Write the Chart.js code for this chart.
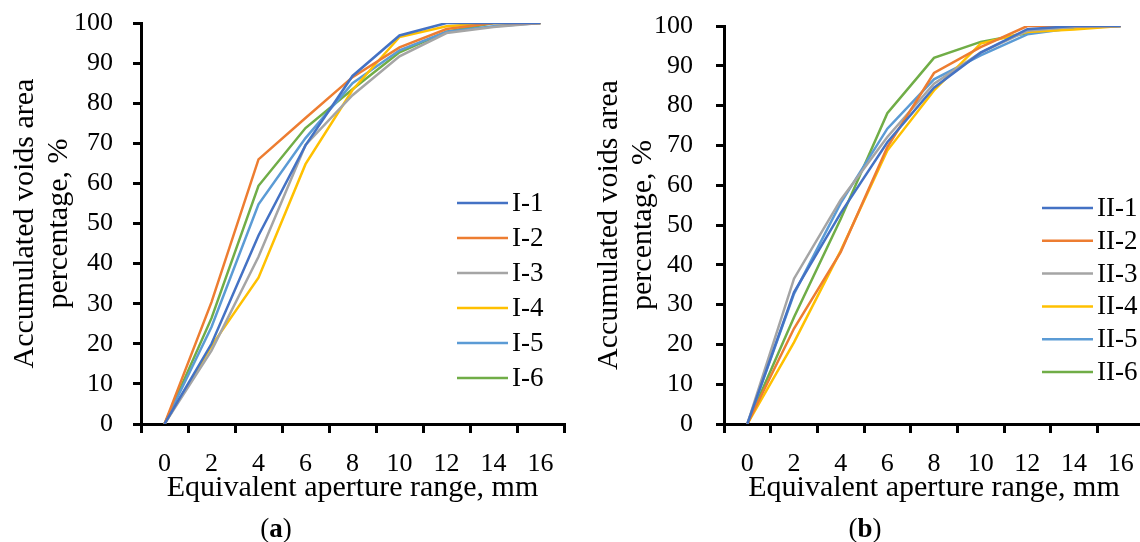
<!DOCTYPE html>
<html>
<head>
<meta charset="utf-8">
<script src="https://cdn.jsdelivr.net/npm/chart.js@4.4.1/dist/chart.umd.min.js"></script>
<style>
  html, body { margin: 0; padding: 0; background: #fff; width: 1140px; height: 542px; overflow: hidden; position: relative; }
  .panel { position: absolute; top: 0; height: 542px; }
  #wrapA { left: 0; width: 570px; }
  #wrapB { left: 570px; width: 580px; }
  .cap { position: absolute; top: 512px; transform: translateX(-50%); font: 27px "Liberation Serif", serif; line-height: 32px; color: #000; }
</style>
</head>
<body>
<div class="panel" id="wrapA"><canvas id="chartA" width="570" height="542"></canvas></div>
<div class="panel" id="wrapB"><canvas id="chartB" width="580" height="542"></canvas></div>
<div class="cap" style="left:276px">(<b>a</b>)</div>
<div class="cap" style="left:865px">(<b>b</b>)</div>
<script>
const FONT = '"Liberation Serif", serif';
const COLORS = ['#4472C4', '#ED7D31', '#A5A5A5', '#FFC000', '#5B9BD5', '#70AD47'];

// x categories (mm)
const apertureLabels = ['0', '2', '4', '6', '8', '10', '12', '14', '16'];

// panel (a)
const namesA = ['I-1', 'I-2', 'I-3', 'I-4', 'I-5', 'I-6'];
const i1 = [0, 20.0, 47.0, 69.5, 86.8, 96.9, 100, 100, 100];
const i2 = [0, 30.4, 66.0, 76.3, 86.5, 93.9, 98.5, 100, 100];
const i3 = [0, 18.3, 41.7, 69.6, 82.0, 91.7, 97.5, 99.0, 100];
const i4 = [0, 19.5, 36.5, 64.8, 83.3, 96.5, 99.2, 100, 100];
const i5 = [0, 24.2, 54.8, 71.3, 85.0, 93.2, 97.8, 99.2, 100];
const i6 = [0, 26.4, 59.4, 73.8, 83.5, 92.7, 97.8, 100, 100];

// panel (b)
const namesB = ['II-1', 'II-2', 'II-3', 'II-4', 'II-5', 'II-6'];
const ii1 = [0, 33.1, 53.0, 70.8, 84.5, 93.3, 99.2, 100, 100];
const ii2 = [0, 24.0, 43.2, 69.6, 88.2, 94.7, 100, 100, 100];
const ii3 = [0, 36.5, 56.3, 72.1, 85.5, 93.3, 98.8, 99.8, 100];
const ii4 = [0, 20.5, 43.5, 68.7, 83.8, 95.6, 98.5, 99.1, 100];
const ii5 = [0, 32.7, 55.5, 74.2, 86.6, 92.6, 97.9, 99.5, 100];
const ii6 = [0, 26.8, 51.5, 78.1, 92.0, 96.0, 98.2, 100, 100];

const yTitle = ['Accumulated voids area', 'percentage, %'];
const xTitle = 'Equivalent aperture range, mm';

// legend drawn inside the plot, Excel style
const legendBox = {
    id: 'legendBox',
    afterDraw(chart, args, o) {
        const ctx = chart.ctx;
        ctx.save();
        ctx.font = `27px ${FONT}`;
        ctx.textBaseline = 'middle';
        ctx.textAlign = 'left';
        chart.data.datasets.forEach((ds, i) => {
            const y = o.y + i * o.step;
            ctx.strokeStyle = ds.borderColor;
            ctx.lineWidth = 2.5;
            ctx.beginPath();
            ctx.moveTo(o.x, y);
            ctx.lineTo(o.x + o.len, y);
            ctx.stroke();
            ctx.fillStyle = '#000';
            ctx.fillText(ds.label, o.x + o.len + 4, y + 1);
        });
        ctx.restore();
    }
};

function makePanel(id, names, series, p) {
    const ctx = document.getElementById(id).getContext('2d');
    return new Chart(ctx, {
        type: 'line',
        data: {
            labels: apertureLabels,
            datasets: series.map((s, i) => ({
                label: names[i],
                data: s,
                borderColor: COLORS[i],
                backgroundColor: COLORS[i],
                borderWidth: 2.5,
                pointRadius: 0,
                tension: 0,
                fill: false
            }))
        },
        options: {
            responsive: false,
            devicePixelRatio: 1,
            animation: false,
            layout: { padding: { top: p.top, right: p.right, left: 0, bottom: 0 } },
            plugins: {
                legend: { display: false },
                tooltip: { enabled: false },
                legendBox: p.legend
            },
            scales: {
                x: {
                    type: 'category',
                    offset: true,
                    grid: { offset: true, display: true, drawOnChartArea: false, tickLength: 9, color: '#000', lineWidth: 3 },
                    border: { display: true, color: '#000', width: 3 },
                    ticks: { color: '#000', font: { family: FONT, size: 26 }, padding: 16, maxRotation: 0, autoSkip: false },
                    title: { display: true, text: xTitle, color: '#000', font: { family: FONT, size: 30, lineHeight: 1.15 }, padding: { bottom: 36.5, top: 0 } },
                    afterFit: s => { s.height = 542 - p.bottomY; }
                },
                y: {
                    min: 0,
                    max: 100,
                    grid: { display: true, drawOnChartArea: false, tickLength: 8, color: '#000', lineWidth: 3 },
                    border: { display: true, color: '#000', width: 3 },
                    ticks: { stepSize: 10, color: '#000', font: { family: FONT, size: 26 }, padding: p.tickPad },
                    title: { display: true, text: yTitle, color: '#000', font: { family: FONT, size: 30, lineHeight: 1.15 }, padding: { top: p.titlePad, bottom: 0 } },
                    afterFit: s => {
                        s.width = p.axisX;
                        s.paddingTop = 0;
                        s.paddingBottom = 0;
                    }
                }
            }
        },
        plugins: [legendBox]
    });
}

makePanel('chartA', namesA, [i1, i2, i3, i4, i5, i6], {
    top: 23, right: 6, bottomY: 424, axisX: 141, titlePad: 7.5, tickPad: 20,
    legend: { x: 457, len: 51, y: 203, step: 35 }
});

makePanel('chartB', namesB, [ii1, ii2, ii3, ii4, ii5, ii6], {
    top: 26, right: 6, bottomY: 424, axisX: 154, titlePad: 21.5, tickPad: 23,
    legend: { x: 472, len: 51, y: 208, step: 32.8 }
});
</script>
</body>
</html>
